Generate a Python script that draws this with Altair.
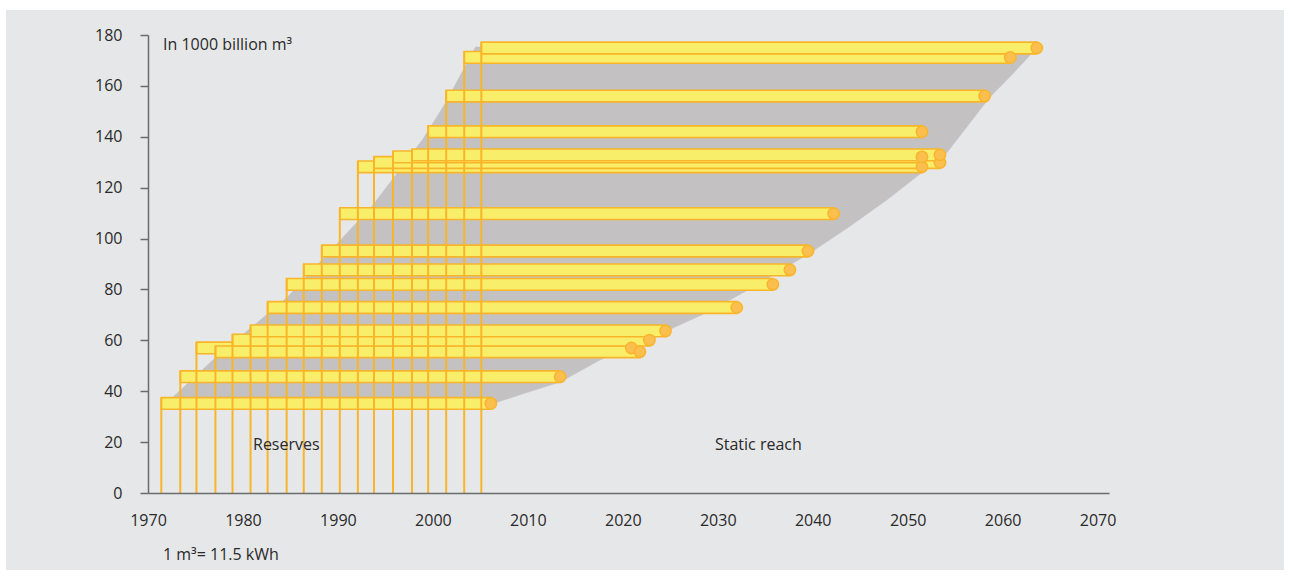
import altair as alt
import pandas as pd

# ---- data ----
start_year = [1971.4, 1973.4, 1975.1, 1977.1, 1978.9, 1980.8, 1982.6, 1984.6, 1986.4, 1988.3,
              1990.2, 1992.1, 1993.8, 1995.8, 1997.8, 1999.5, 2001.4, 2003.3, 2005.1]
reserves = [35.2, 45.7, 57.0, 55.5, 60.1, 63.7, 72.9, 82.0, 87.7, 95.1,
            109.8, 128.2, 129.9, 132.1, 132.9, 142.0, 156.0, 171.2, 174.9]
reach_end = [2006.1, 2013.4, 2020.9, 2021.8, 2022.8, 2024.5, 2032.0, 2035.8, 2037.6, 2039.5,
             2042.2, 2051.5, 2053.4, 2051.5, 2053.4, 2051.5, 2058.1, 2060.8, 2063.6]

# outline of the grey "static reach" band
shade_year = [1972.5, 1977.2, 1984.7, 1993.7, 1998.9, 2001.4, 2003.2, 2004.5, 2063.7, 2063.2,
              2061.0, 2058.6, 2054.1, 2051.0, 2047.8, 2043.8, 2039.7, 2034.0, 2028.8,
              2022.5, 2017.6, 2013.4, 2009.5, 2006.2]
shade_value = [37.2, 53.5, 77.0, 113.2, 138.8, 153.7, 166.3, 175.3, 175.3, 173.3,
               164.5, 155.3, 133.6, 124.5, 115.2, 104.5, 94.3, 81.5, 70.8,
               60.1, 52.3, 43.6, 39.0, 35.0]

x_ticks = [1970, 1980, 1990, 2000, 2010, 2020, 2030, 2040, 2050, 2060, 2070]
y_ticks = [0, 20, 40, 60, 80, 100, 120, 140, 160, 180]

bars = pd.DataFrame({"start": start_year, "reserves": reserves, "end": reach_end})
shade = pd.DataFrame({"year": shade_year, "value": shade_value,
                      "i": list(range(len(shade_year)))})

FONT = "Open Sans"
YELLOW = "#f8ee6a"
ORANGE = "#f9b52a"
DOT = "#fbbf4f"
GREY = "#c3c1c2"
PANEL = "#e6e7e9"
TEXT = "#2a2a2a"
AXIS = "#6b6b6b"
HALF = 2.3

xscale = alt.Scale(domain=[1970, 2071.2], nice=False, zero=False)
yscale = alt.Scale(domain=[0, 180], nice=False)

xaxis = alt.Axis(values=x_ticks, format="d", ticks=False, labelPadding=19,
                 labelFlush=False, grid=False, title=None, zindex=1,
                 domainColor=AXIS, domainWidth=1.5)
yaxis = alt.Axis(values=y_ticks, format="d", tickSize=8, labelPadding=18,
                 labelFlush=False, grid=False, title=None, zindex=1,
                 domainColor=AXIS, tickColor=AXIS, domainWidth=1.5, tickWidth=1.5)

one = pd.DataFrame({"a": [0]})

panel = alt.Chart(one).mark_rect(color=PANEL).encode(
    x=alt.value(-142), x2=alt.value(1136), y=alt.value(-25), y2=alt.value(535)
)

band = alt.Chart(shade).mark_line(fill=GREY, stroke=GREY, strokeWidth=0.5).encode(
    x=alt.X("year:Q", scale=xscale, axis=xaxis),
    y=alt.Y("value:Q", scale=yscale, axis=yaxis),
    order="i:Q",
)

base = alt.Chart(bars).transform_calculate(
    lo=f"datum.reserves - {HALF}", hi=f"datum.reserves + {HALF}", zero="0"
)

rects = base.mark_rect(fill=YELLOW, stroke=ORANGE, strokeWidth=1.6).encode(
    x=alt.X("start:Q", scale=xscale, axis=xaxis),
    x2="end:Q",
    y=alt.Y("lo:Q", scale=yscale, axis=yaxis),
    y2="hi:Q",
)

stems = base.mark_rule(color=ORANGE, strokeWidth=2).encode(
    x=alt.X("start:Q", scale=xscale, axis=xaxis),
    y=alt.Y("zero:Q", scale=yscale, axis=yaxis),
    y2="hi:Q",
)

dots = base.mark_circle(size=130, fill=DOT, stroke=ORANGE, strokeWidth=1.5, opacity=1).encode(
    x=alt.X("end:Q", scale=xscale, axis=xaxis),
    y=alt.Y("reserves:Q", scale=yscale, axis=yaxis),
)


def note(txt, x, y):
    return alt.Chart(one).mark_text(text=txt, align="left", baseline="middle",
                                    font=FONT, fontSize=16, color=TEXT).encode(
        x=alt.value(x), y=alt.value(y))


notes = [
    note("In 1000 billion m³", 15, 10),
    note("Reserves", 105, 410),
    note("Static reach", 567, 410),
    note("1 m³= 11.5 kWh", 15, 520),
]

chart = alt.layer(panel, band, rects, stems, dots, *notes).properties(
    width=961, height=458,
    autosize=alt.AutoSizeParams(type="none"),
    padding={"left": 148, "top": 35, "right": 181, "bottom": 86},
    background="white",
).configure_view(strokeWidth=0).configure_axis(
    labelFont=FONT, labelFontSize=16, labelColor=TEXT
)

chart.save("out.html", embed_options={"renderer": "svg", "actions": False})
